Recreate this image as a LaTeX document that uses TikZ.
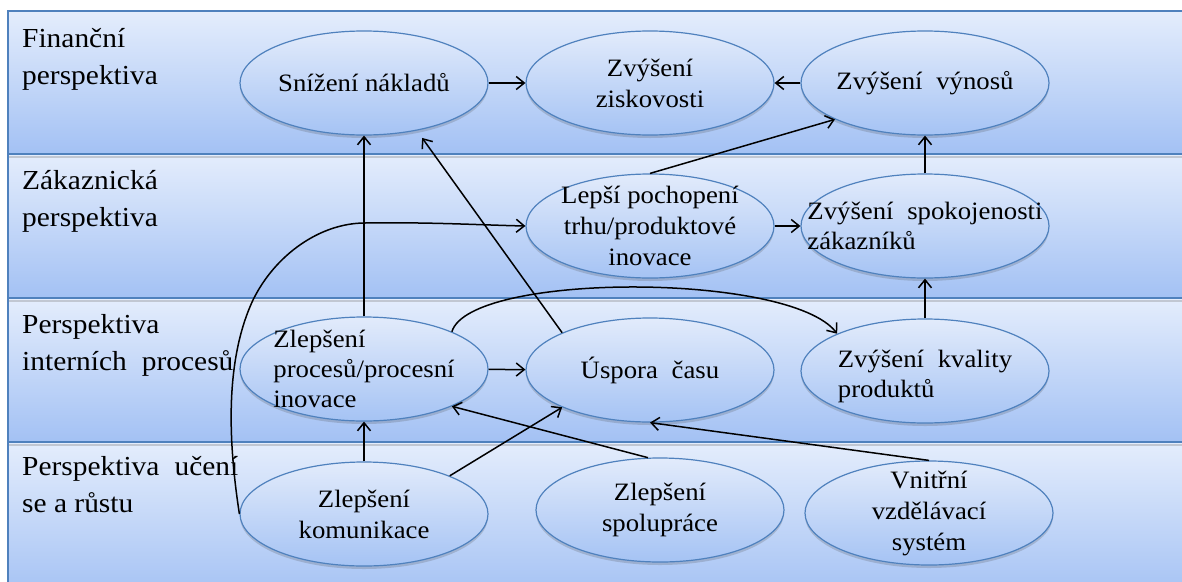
\documentclass[tikz,border=0pt]{standalone}
\usepackage{fontspec}
\setmainfont{Liberation Serif}[FakeStretch=1.07]
\usetikzlibrary{arrows.meta,shapes.geometric,shadows}
\definecolor{bandtop}{RGB}{228,237,252}
\definecolor{bandbot}{RGB}{163,193,244}
\definecolor{elltop}{RGB}{226,235,251}
\definecolor{ellbot}{RGB}{165,195,244}
\definecolor{edge}{RGB}{79,129,189}
\newcommand{\wideGap}{\hspace*{0.55em}}
\begin{document}
\begin{tikzpicture}[x=1pt,y=-1pt,
  band/.style={draw=edge,line width=1.5pt,top color=bandtop,bottom color=bandbot},
  bandshadow/.style={black!55,opacity=0.3,line width=2.5pt},
  elli/.style={ellipse,draw=edge,line width=1.2pt,top color=elltop,bottom color=ellbot,
    minimum width=248pt,minimum height=104pt,inner sep=0pt,
    drop shadow={shadow xshift=0pt,shadow yshift=-3pt,opacity=0.22,fill=black!70}},
  txt/.style={font=\fontsize{25}{31}\selectfont,inner sep=0pt,align=center},
  ltxt/.style={font=\fontsize{25}{30}\selectfont,inner sep=0pt,align=left},
  side/.style={font=\fontsize{27.5}{36.5}\selectfont,inner sep=0pt,align=left,anchor=base west},
  conn/.style={line width=1.5pt,-{Straight Barb[length=8pt,width=13pt]}},
]
\useasboundingbox (0,0) rectangle (1182,581);
\clip (0,0) rectangle (1182,581);
\fill[white] (0,0) rectangle (1182,581);

% bands
\path[band] (8,11) rectangle (1195,154);
\path[band] (8,154) rectangle (1195,298);
\path[band] (8,298) rectangle (1195,442);
\path[band] (8,442) rectangle (1195,600);
\draw[bandshadow] (9,157) -- (1195,157);
\draw[bandshadow] (9,301) -- (1195,301);
\draw[bandshadow] (9,445) -- (1195,445);

% side labels (anchor = baseline of last line)
\node[side] (l1) at (22,84) {Finanční\\perspektiva};
\node[side] (l2) at (22,226) {Zákaznická\\perspektiva};
\node[side] (l3) at (22,370) {Perspektiva\\interních\wideGap procesů};
\node[side] (l4) at (22,512) {Perspektiva\wideGap učení\\se a růstu};

% ellipses
\node[elli,label={[txt]center:Snížení nákladů}] (sn) at (364,83) {};
\node[elli,label={[txt]center:{Zvýšení\\ziskovosti}}] (zi) at (650,83) {};
\node[elli,label={[txt]center:Zvýšení\wideGap výnosů}] (vy) at (925,83) {};
\node[elli,label={[txt]center:{Lepší pochopení\\trhu/produktové\\inovace}}] (lep) at (650,226) {};
\node[elli,label={[ltxt]center:{Zvýšení\wideGap spokojenosti\\zákazníků}}] (spo) at (925,226) {};
\node[elli,label={[ltxt]center:{Zlepšení\\procesů/procesní\\inovace}}] (zp) at (364,369) {};
\node[elli,label={[txt]center:Úspora\wideGap času}] (us) at (650,370) {};
\node[elli,label={[ltxt,yshift=-5pt]center:{Zvýšení\wideGap kvality\\produktů}}] (kv) at (925,371) {};
\node[elli,label={[txt]center:{Zlepšení\\komunikace}}] (kom) at (364,514) {};
\node[elli,label={[txt]center:{Zlepšení\\spolupráce}}] (spol) at (660,510) {};
\node[elli,label={[txt]center:{Vnitřní\\vzdělávací\\systém}}] (vn) at (929,513) {};

% connectors
\draw[conn] (sn) -- (zi);
\draw[conn] (vy) -- (zi);
\draw[conn] (lep.north) -- (vy.202);
\draw[conn] (spo) -- (vy);
\draw[conn] (lep) -- (spo);
\draw[conn] (kv) -- (spo);
\draw[conn] (kom.west) .. controls (228,440) and (225,360) .. (253,300)
  .. controls (275,255) and (320,223) .. (365,223)
  .. controls (430,222) and (480,225) .. (lep.west);
\draw[conn] (zp.23) .. controls (470,272) and (790,272) .. (kv.157);
\draw[conn,shorten >=9pt] (us.157) -- (sn.-42);
\draw[conn] (zp) -- (sn);
\draw[conn] (zp) -- (us);
\draw[conn] (kom) -- (zp);
\draw[conn] (kom.24) -- (us.203);
\draw[conn] (spol.103) -- (zp.-23);
\draw[conn] (vn.north) -- (us.south);
\end{tikzpicture}
\end{document}
